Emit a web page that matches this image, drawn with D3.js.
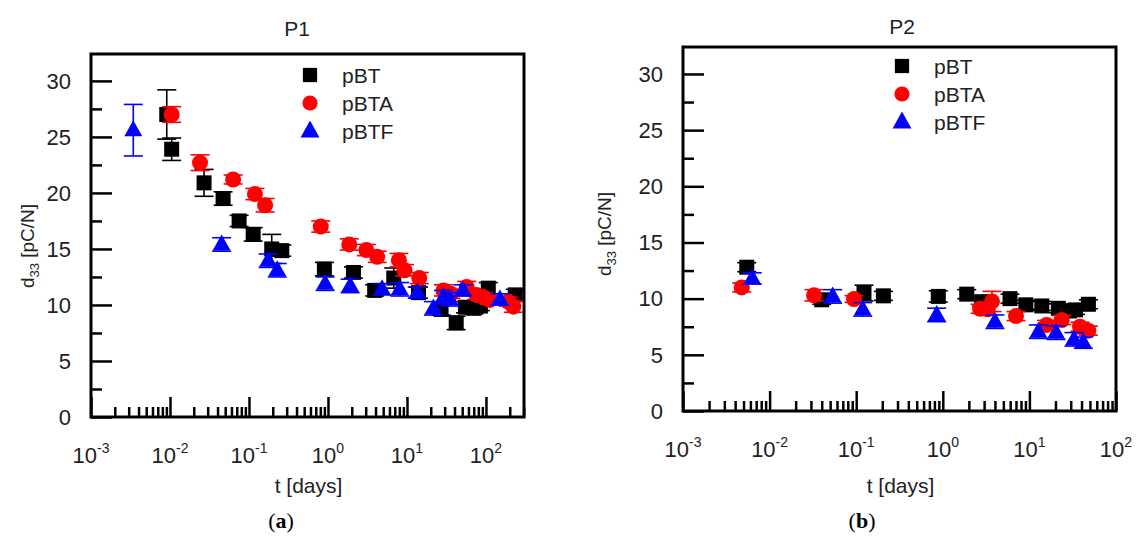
<!DOCTYPE html>
<html>
<head>
<meta charset="utf-8">
<script src="https://cdn.jsdelivr.net/npm/d3@7/dist/d3.min.js"></script>
<style>
  html, body { margin: 0; padding: 0; background: #fff; }
  svg { display: block; font-family: "Liberation Sans", Arial, sans-serif; }
</style>
</head>
<body>
<svg id="fig" width="1138" height="541"></svg>
<script>
// d33 ageing data: [time in days, d33 in pC/N, error]
const seriesNames = ["pBT", "pBTA", "pBTF"];
const seriesColors = ["#000000", "#ff0000", "#0000ff"];
const decadeExponents = [-3, -2, -1, 0, 1, 2];
const yTickValues = [0, 5, 10, 15, 20, 25, 30];

// Panel P1
const p1_pBT = [
  [0.0091, 27.0, 2.2], [0.0105, 23.9, 1.0], [0.027, 20.9, 1.2], [0.047, 19.5, 0.6],
  [0.075, 17.5, 0.5], [0.113, 16.3, 0.6], [0.194, 15.0, 1.3], [0.26, 14.85, 0.5],
  [0.90, 13.2, 0.6], [2.1, 12.9, 0.5], [3.9, 11.3, 0.5], [6.8, 12.4, 0.9],
  [14, 11.1, 0.5], [27, 9.6, 0.5], [42, 8.4, 0.6], [55, 9.8, 0.5],
  [70, 9.7, 0.5], [85, 9.9, 0.4], [107, 11.5, 0.5], [235, 10.9, 0.5]
];
const p1_pBTA = [
  [0.0105, 27.0, 0.7], [0.024, 22.7, 0.7], [0.063, 21.2, 0.4], [0.119, 19.9, 0.5],
  [0.16, 18.9, 0.6], [0.81, 17.0, 0.5], [1.86, 15.4, 0.5], [3.06, 14.9, 0.5],
  [4.2, 14.3, 0.5], [7.9, 14.0, 0.6], [9.3, 13.1, 0.5], [14.3, 12.4, 0.5],
  [29, 11.3, 0.5], [36, 11.0, 0.4], [57, 11.6, 0.5], [76, 10.9, 0.4],
  [92, 10.7, 0.4], [112, 10.45, 0.4], [191, 10.3, 0.4], [222, 9.85, 0.5]
];
const p1_pBTF = [
  [0.00343, 25.6, 2.3], [0.045, 15.4, 0.6], [0.175, 13.95, 0.6], [0.228, 13.1, 0.6],
  [0.92, 11.9, 0.6], [1.91, 11.7, 0.6], [4.85, 11.4, 0.5], [8.1, 11.4, 0.6],
  [13.5, 11.1, 0.5], [21.6, 9.7, 0.6], [29, 10.7, 0.6], [35, 10.5, 0.6],
  [51, 11.3, 0.5], [150, 10.5, 0.5]
];

// Panel P2
const p2_pBT = [
  [0.00545, 12.8, 0.4], [0.04, 9.9, 0.4], [0.123, 10.5, 0.7], [0.206, 10.25, 0.4],
  [0.887, 10.2, 0.5], [1.89, 10.4, 0.4], [2.81, 9.73, 0.4], [5.97, 10.0, 0.4],
  [9.1, 9.45, 0.4], [13.9, 9.35, 0.4], [21.6, 9.14, 0.4], [29, 8.9, 0.4],
  [34, 9.0, 0.4], [48, 9.5, 0.4]
];
const p2_pBTA = [
  [0.00477, 11.0, 0.4], [0.0326, 10.3, 0.5], [0.0944, 9.97, 0.3], [2.7, 9.1, 0.4],
  [3.3, 9.05, 0.5], [3.7, 9.75, 0.9], [7.0, 8.45, 0.4], [15.8, 7.66, 0.4],
  [23.6, 8.1, 0.4], [38.4, 7.5, 0.4], [47.9, 7.15, 0.4]
];
const p2_pBTF = [
  [0.0063, 11.8, 0.5], [0.0535, 10.2, 0.6], [0.119, 9.05, 0.6], [0.85, 8.55, 0.6],
  [4.0, 7.95, 0.6], [12.7, 7.06, 0.6], [20.3, 6.97, 0.6], [32.7, 6.38, 0.6],
  [41.9, 6.08, 0.5]
];

const panels = [
  { title: "P1", caption: "a", series: [p1_pBT, p1_pBTA, p1_pBTF],
    left: 91, right: 524, top: 54, bottom: 417, tMax: 303, yMax: 32.4,
    titleX: 297, titleY: 36, legendX: 310, legendY: 75, captionX: 281, tickLabelY: 463,
    yTitleX: 34, yTitleY: 246 },
  { title: "P2", caption: "b", series: [p2_pBT, p2_pBTA, p2_pBTF],
    left: 683, right: 1116, top: 47, bottom: 411, tMax: 100, yMax: 32.4,
    titleX: 902, titleY: 34, legendX: 902, legendY: 66, captionX: 862, tickLabelY: 457,
    yTitleX: 611, yTitleY: 234 }
];

const FS = 22;
const svg = d3.select("#fig");

function drawMarker(g, kind, color, cx, cy, scale) {
  const s = scale || 1;
  if (kind === 0) {
    const a = 15 * s;
    g.append("rect").attr("x", cx - a / 2).attr("y", cy - a / 2)
      .attr("width", a).attr("height", a).attr("fill", color);
  } else if (kind === 1) {
    g.append("circle").attr("cx", cx).attr("cy", cy).attr("r", 8 * s).attr("fill", color);
  } else {
    const w = 18 * s, h = 16 * s;
    g.append("path")
      .attr("d", `M${cx},${cy - h * 0.62}L${cx + w / 2},${cy + h * 0.38}L${cx - w / 2},${cy + h * 0.38}Z`)
      .attr("fill", color);
  }
}

panels.forEach(p => {
  const g = svg.append("g");
  const x = d3.scaleLog().domain([1e-3, p.tMax]).range([p.left, p.right]);
  const y = d3.scaleLinear().domain([0, p.yMax]).range([p.bottom, p.top]);

  // minor & major x ticks (pointing inward)
  const minorT = [];
  decadeExponents.forEach(e => {
    for (let k = 2; k <= 9; k++) {
      const v = k * Math.pow(10, e);
      if (v < p.tMax) minorT.push(v);
    }
  });
  const majorT = decadeExponents.map(e => Math.pow(10, e)).filter(v => v <= p.tMax);

  const axMinor = d3.axisBottom(x).tickValues(minorT).tickSizeInner(-10).tickSizeOuter(0).tickFormat("");
  const axMajor = d3.axisBottom(x).tickValues(majorT).tickSizeInner(-20).tickSizeOuter(0).tickFormat("");
  [axMinor, axMajor].forEach(ax => {
    const a = g.append("g").attr("transform", `translate(0,${p.bottom})`).call(ax);
    a.select(".domain").remove();
    a.selectAll("line").attr("stroke", "#000").attr("stroke-width", 2.5);
  });

  // y ticks (inward)
  const yMinor = yTickValues.slice(0, -1).map(v => v + 2.5);
  const ayMinor = d3.axisLeft(y).tickValues(yMinor).tickSizeInner(-11).tickSizeOuter(0).tickFormat("");
  const ayMajor = d3.axisLeft(y).tickValues(yTickValues).tickSizeInner(-21).tickSizeOuter(0).tickFormat("");
  [ayMinor, ayMajor].forEach(ax => {
    const a = g.append("g").attr("transform", `translate(${p.left},0)`).call(ax);
    a.select(".domain").remove();
    a.selectAll("line").attr("stroke", "#000").attr("stroke-width", 2.5);
  });

  // y tick labels
  g.selectAll(".ylab").data(yTickValues).enter().append("text")
    .attr("x", p.left - 20).attr("y", d => y(d) + 7.8)
    .attr("text-anchor", "end").attr("font-size", FS).attr("fill", "#222")
    .text(d => d);

  // x tick labels: 10^n
  decadeExponents.forEach(e => {
    const t = g.append("text")
      .attr("x", x(Math.pow(10, e))).attr("y", p.tickLabelY)
      .attr("text-anchor", "middle").attr("font-size", FS).attr("fill", "#222");
    t.append("tspan").text("10");
    t.append("tspan").attr("dy", -10).attr("font-size", 14).text(String(e));
  });

  // frame
  g.append("rect").attr("x", p.left).attr("y", p.top)
    .attr("width", p.right - p.left).attr("height", p.bottom - p.top)
    .attr("fill", "none").attr("stroke", "#000").attr("stroke-width", 3);

  // title
  g.append("text").attr("x", p.titleX).attr("y", p.titleY)
    .attr("text-anchor", "middle").attr("font-size", FS - 1).attr("fill", "#222").text(p.title);

  // axis titles
  const yt = g.append("text")
    .attr("transform", `translate(${p.yTitleX},${p.yTitleY}) rotate(-90)`)
    .attr("text-anchor", "middle").attr("font-size", 19).attr("fill", "#222");
  yt.append("tspan").text("d");
  yt.append("tspan").attr("font-size", 13).attr("dy", 5).text("33");
  yt.append("tspan").attr("dy", -5).text(" [pC/N]");

  g.append("text").attr("x", (p.left + p.right) / 2 + 1).attr("y", 493)
    .attr("text-anchor", "middle").attr("font-size", FS - 1).attr("fill", "#222").text("t [days]");

  const cap = g.append("text").attr("x", p.captionX).attr("y", 528)
    .attr("text-anchor", "middle").attr("font-size", 22)
    .attr("font-family", "'Liberation Serif', 'DejaVu Serif', serif").attr("fill", "#000");
  cap.append("tspan").text("(");
  cap.append("tspan").attr("font-weight", "bold").text(p.caption);
  cap.append("tspan").text(")");

  // data: error bars + markers, black then red then blue
  const clip = "clip-" + p.title;
  svg.append("clipPath").attr("id", clip).append("rect")
    .attr("x", p.left).attr("y", p.top).attr("width", p.right - p.left).attr("height", p.bottom - p.top);
  const dg = g.append("g").attr("clip-path", `url(#${clip})`);
  p.series.forEach((data, si) => {
    const color = seriesColors[si];
    const sg = dg.append("g");
    data.forEach(d => {
      const px = x(d[0]);
      const y1 = y(d[1] + d[2]), y2 = y(d[1] - d[2]);
      sg.append("line").attr("x1", px).attr("x2", px).attr("y1", y1).attr("y2", y2)
        .attr("stroke", color).attr("stroke-width", 1.6);
      [y1, y2].forEach(yy => {
        sg.append("line").attr("x1", px - 9.5).attr("x2", px + 9.5).attr("y1", yy).attr("y2", yy)
          .attr("stroke", color).attr("stroke-width", 1.6);
      });
    });
    data.forEach(d => drawMarker(sg, si, color, x(d[0]), y(d[1]), 1));
  });

  // legend
  seriesNames.forEach((name, i) => {
    const ly = p.legendY + i * 28;
    drawMarker(g, i, seriesColors[i], p.legendX, ly, i === 2 ? 1.05 : 0.95);
    g.append("text").attr("x", p.legendX + 32).attr("y", ly + 7.5)
      .attr("font-size", FS - 1).attr("fill", "#222").text(name);
  });
});
</script>
</body>
</html>
